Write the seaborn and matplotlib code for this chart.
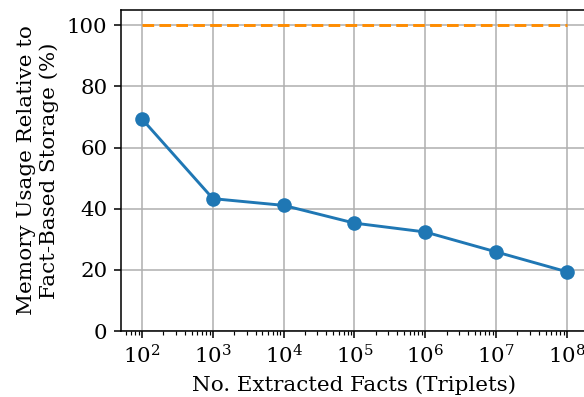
import matplotlib
matplotlib.use("Agg")
import matplotlib.pyplot as plt
import seaborn as sns
import pandas as pd

facts = [1e2, 1e3, 1e4, 1e5, 1e6, 1e7, 1e8]
memory_pct = [69.3, 43.3, 41.1, 35.3, 32.4, 25.9, 19.4]
baseline_pct = [100, 100, 100, 100, 100, 100, 100]

plt.rcdefaults()
plt.rcParams['font.family'] = ['DejaVu Serif']
plt.rcParams['font.size'] = 11

df = pd.DataFrame({"facts": facts, "mem": memory_pct, "base": baseline_pct})

DPI = 140
fig = plt.figure(figsize=(584 / DPI, 397 / DPI), dpi=DPI)
ax = fig.add_axes([0.207, 0.166, 0.80, 0.809])

sns.lineplot(data=df, x="facts", y="base", ax=ax, color="#ff8c00",
             linewidth=1.5)
ax.lines[-1].set_linestyle((0, (4, 1.8)))
sns.lineplot(data=df, x="facts", y="mem", ax=ax, color="#1f77b4", marker="o",
             markersize=7.5, linewidth=1.5, markeredgewidth=0)

ax.set_xscale("log")
ax.set_ylim(0, 105)
ax.set_yticks([0, 20, 40, 60, 80, 100])
ax.grid(True, color="#b0b0b0", linewidth=0.8)
ax.set_axisbelow(True)
ax.tick_params(colors="black")
ax.set_xlabel("No. Extracted Facts (Triplets)")
ax.set_ylabel("Memory Usage Relative to\nFact-Based Storage (%)")

fig.savefig("out.png", dpi=DPI)
